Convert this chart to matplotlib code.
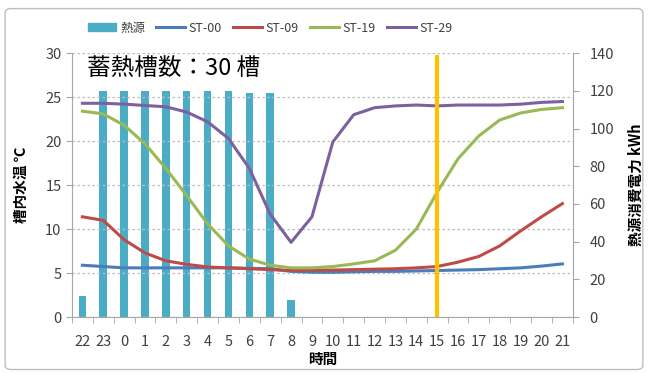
import matplotlib.pyplot as plt
from matplotlib.patches import FancyBboxPatch, Patch
from matplotlib.lines import Line2D
import numpy as np

plt.rcParams['font.family'] = ['Noto Sans CJK JP', 'DejaVu Sans']

hours = ['22', '23', '0', '1', '2', '3', '4', '5', '6', '7', '8', '9',
         '10', '11', '12', '13', '14', '15', '16', '17', '18', '19', '20', '21']

# 熱源消費電力 (kWh)
heat_kwh = [11, 120, 120, 120, 120, 120, 120, 120, 119, 119, 9, 0,
            0, 0, 0, 0, 0, 0, 0, 0, 0, 0, 0, 0]

st00 = [5.9, 5.75, 5.6, 5.6, 5.6, 5.6, 5.6, 5.6, 5.55, 5.5, 5.2, 5.1,
        5.1, 5.15, 5.2, 5.2, 5.25, 5.3, 5.35, 5.4, 5.5, 5.6, 5.8, 6.05]
st09 = [11.4, 11.0, 8.8, 7.3, 6.4, 6.0, 5.7, 5.6, 5.5, 5.4, 5.3, 5.35,
        5.35, 5.4, 5.45, 5.5, 5.6, 5.75, 6.25, 6.9, 8.1, 9.8, 11.4, 12.9]
st19 = [23.4, 23.1, 21.8, 19.7, 16.9, 13.8, 10.6, 8.1, 6.6, 5.9, 5.6, 5.6,
        5.75, 6.05, 6.4, 7.6, 10.0, 14.2, 18.0, 20.6, 22.4, 23.2, 23.6, 23.8]
st29 = [24.3, 24.3, 24.2, 24.05, 23.9, 23.3, 22.2, 20.3, 16.9, 11.7, 8.5, 11.4,
        19.9, 23.0, 23.8, 24.0, 24.1, 24.0, 24.1, 24.1, 24.1, 24.2, 24.4, 24.5]

marker_hour = '15'

series = [('ST-00', st00, '#4A7EBB'),
          ('ST-09', st09, '#BE4B48'),
          ('ST-19', st19, '#98B954'),
          ('ST-29', st29, '#7D60A0')]

fig = plt.figure(figsize=(6.48, 3.74), dpi=100)
fig.patches.append(FancyBboxPatch((0.008, 0.012), 0.984, 0.965,
                                  boxstyle='round,pad=0,rounding_size=0.01',
                                  transform=fig.transFigure, fill=False,
                                  edgecolor='#BFBFBF', linewidth=1))

ax = fig.add_axes([0.111, 0.152, 0.773, 0.706])
ax2 = ax.twinx()
ax.set_zorder(ax2.get_zorder() + 1)
ax.patch.set_visible(False)

x = np.arange(len(hours))

ax2.bar(x, heat_kwh, width=0.36, color='#4BACC6')
for name, vals, col in series:
    ax.plot(x, vals, color=col, linewidth=2.2, label=name)

mx = hours.index(marker_hour)
ax.axvline(mx, ymin=0, ymax=0.985, color='#FFC000', linewidth=3, zorder=5)

ax.set_xlim(-0.5, len(hours) - 0.5)
ax.set_ylim(0, 30)
ax2.set_ylim(0, 140)
ax.set_yticks(range(0, 31, 5))
ax2.set_yticks(range(0, 141, 20))
ax.set_xticks(x)
ax.set_xticklabels(hours)
ax.set_xticks(np.arange(-0.5, len(hours)), minor=True)
ax.tick_params(axis='x', which='major', length=0, pad=13, labelsize=10.5, colors='#404040')
ax.tick_params(axis='x', which='minor', length=4, color='#A6A6A6')
ax.tick_params(axis='y', length=4, color='#A6A6A6', labelsize=10.5, labelcolor='#404040')
ax2.tick_params(axis='y', length=4, color='#A6A6A6', labelsize=10.5, labelcolor='#404040', pad=8)

ax.grid(axis='y', linestyle=(0, (2, 2)), color='#BFBFBF', linewidth=0.9)
for a in (ax, ax2):
    a.spines['top'].set_visible(False)
    for s in ('left', 'right', 'bottom'):
        a.spines[s].set_color('#A6A6A6')
ax.spines['right'].set_visible(False)
ax2.spines['left'].set_visible(False)
ax2.spines['bottom'].set_visible(False)

ax.set_ylabel('槽内水温 ℃', fontsize=10.5, fontweight='bold', labelpad=12)
ax2.set_ylabel('熱源消費電力 kWh', fontsize=10.5, fontweight='bold', labelpad=10)
ax.set_xlabel('時間', fontsize=10.5, fontweight='bold', labelpad=1)

ax.text(0.03, 0.985, '蓄熱槽数：30 槽', transform=ax.transAxes, fontsize=17,
        va='top', ha='left', color='black')

handles = [Patch(color='#4BACC6')] + [Line2D([], [], color=c, linewidth=2.2) for _, _, c in series]
labels = ['熱源'] + [n for n, _, _ in series]
fig.legend(handles, labels, loc='center', bbox_to_anchor=(0.417, 0.925), ncol=5,
           frameon=False, fontsize=9, handlelength=2.3, handleheight=0.6,
           columnspacing=0.9, handletextpad=0.3, labelcolor='#404040')

fig.savefig('out.png', dpi=100)
